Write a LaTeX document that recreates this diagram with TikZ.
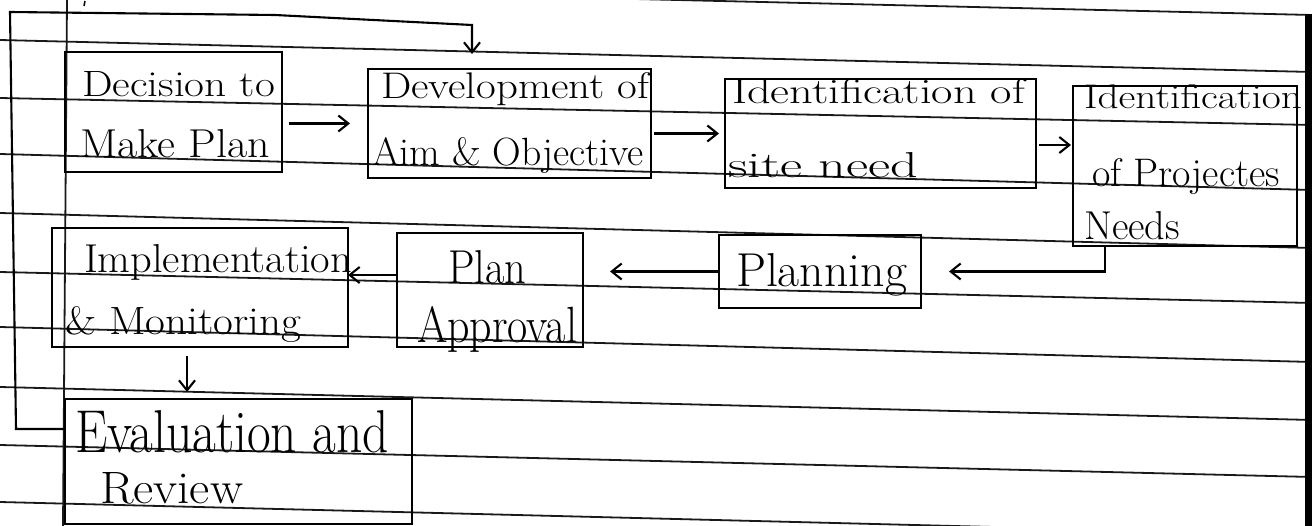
\documentclass[tikz,border=0pt]{standalone}
\usepackage{graphicx}
\usetikzlibrary{arrows.meta}
\newcommand{\hw}[3]{\resizebox{#1pt}{#2pt}{\fontsize{28}{30}\selectfont #3}}
\begin{document}
\begin{tikzpicture}[x=1pt,y=-1pt,
  rule/.style={line width=1.8pt,black!90},
  hbox/.style={draw=black,line width=2.3pt,rectangle,inner sep=0pt,outer sep=0pt},
  txt/.style={anchor=base west,inner sep=0pt,outer sep=0pt},
  arr/.style={line width=2.1pt,-{Straight Barb[length=10pt,width=16pt]}}]
\useasboundingbox (0,0) rectangle (1312,526);
\fill[white] (0,0) rectangle (1312,526);
\begin{scope}
\clip (0,0) rectangle (1312,526);
% ruled paper
\foreach \a/\b in {-16/15,40/72,98/125,154/190,213/248,272/303,327/362,387/420,445/477,502/535}
  {\draw[rule] (0,\a) -- (1312,\b);}
\draw[rule] (67,0) -- (63,526);
\draw[line width=1.5pt] (85,1) -- (84,6);
% boxes
\node[hbox,minimum width=217pt,minimum height=120pt] (A) at (173.5,112) {};
\node[hbox,minimum width=283pt,minimum height=109pt] (B) at (509.5,123.5) {};
\node[hbox,minimum width=311pt,minimum height=109pt] (C) at (880.5,133.5) {};
\node[hbox,minimum width=224pt,minimum height=160pt] (D) at (1185,166) {};
\node[hbox,minimum width=296pt,minimum height=119pt] (E) at (200,287.5) {};
\node[hbox,minimum width=186pt,minimum height=114pt] (F) at (490,290) {};
\node[hbox,minimum width=202pt,minimum height=73pt] (G) at (820,271.5) {};
\node[hbox,minimum width=347pt,minimum height=125pt] (H) at (238.5,461.5) {};
% texts
\node[txt] (t1) at (82,97) {\hw{193}{25}{Decision to}};
\node[txt] (t2) at (80,158) {\hw{190}{28}{Make Plan}};
\node[txt] (t3) at (381,99) {\hw{268}{26}{Development of}};
\node[txt] (t4) at (372,166) {\hw{272}{28}{Aim \& Objective}};
\node[txt] (t5) at (732,104) {\hw{293}{25}{Identification of}};
\node[txt] (t6) at (728,178) {\hw{190}{25}{site need}};
\node[txt] (t7) at (1084,109) {\hw{218}{24}{Identification}};
\node[txt] (t8) at (1092,187) {\hw{188}{28}{of Projectes}};
\node[txt] (t9) at (1084,240) {\hw{96}{28}{Needs}};
\node[txt] (t10) at (84,273) {\hw{268}{28}{Implementation}};
\node[txt] (t11) at (65,335) {\hw{236}{28}{\& Monitoring}};
\node[txt] (t12) at (448,284) {\hw{78}{33}{Plan}};
\node[txt] (t13) at (417,343) {\hw{160}{36}{Approval}};
\node[txt] (t14) at (736,287) {\hw{171}{33}{Planning}};
\node[txt] (t15) at (75,452) {\hw{314}{42}{Evaluation and}};
\node[txt] (t16) at (100,503) {\hw{143}{31}{Review}};
% connectors
\draw[arr,shorten <=7pt,shorten >=18pt] (A.east |- B.west) -- (B.west);
\draw[arr,shorten <=3pt,shorten >=6pt] (B.east |- C.west) -- (C.west);
\draw[arr,shorten <=3pt,shorten >=2pt] ([yshift=-11.5pt]C.east) -- ([yshift=-11.5pt]C.east -| D.west);
\draw[arr,shorten >=28pt] ([xshift=-80pt]D.south) |- (G.east);
\draw[arr,shorten >=27pt] (G.west) -- (G.west -| F.east);
\draw[arr] ([yshift=15pt]F.west) -- ([yshift=15pt]F.west -| E.east);
\draw[arr,shorten <=9pt,shorten >=7pt] ([xshift=-13pt]E.south) -- ([xshift=-13pt]E.south |- H.north);
\draw[arr,shorten >=15pt] ([yshift=32.5pt]H.west) -- (16,429) -- (10,12) -- (275,15) -- (472,25) -- ([xshift=-37.5pt]B.north);
% paper edge
\fill[black] (1305,14) rectangle (1312,526);
\end{scope}
\end{tikzpicture}
\end{document}
